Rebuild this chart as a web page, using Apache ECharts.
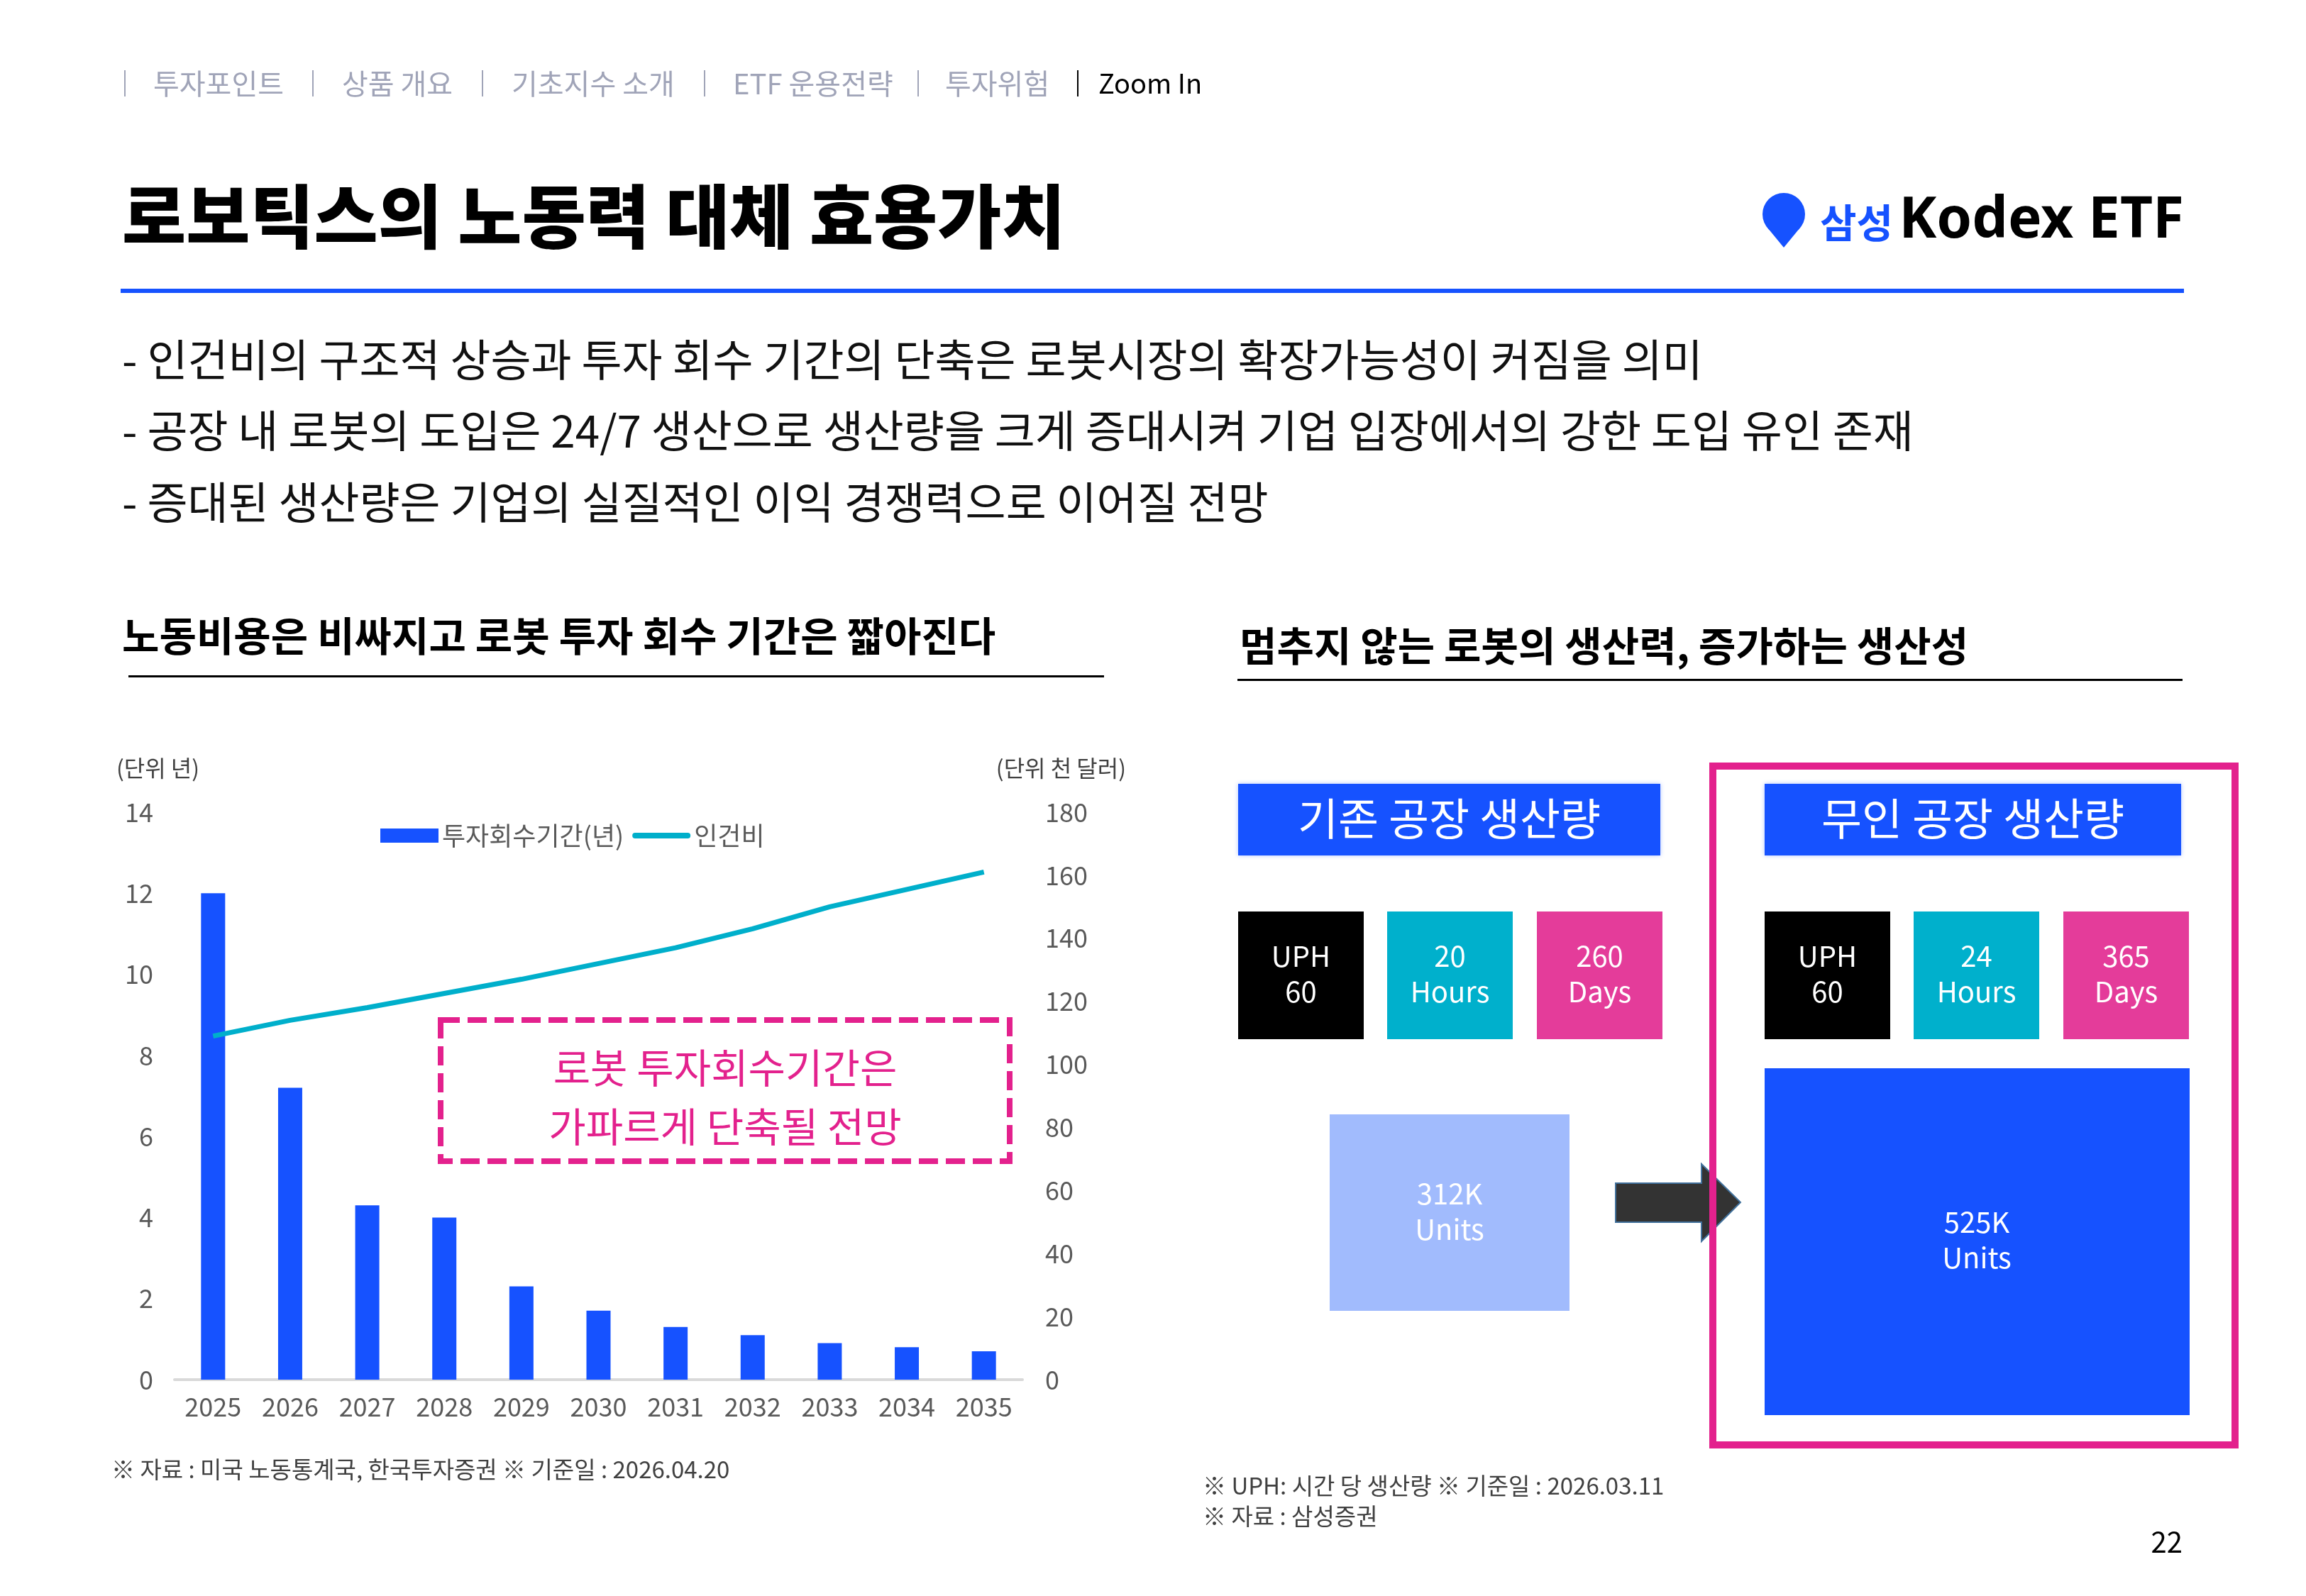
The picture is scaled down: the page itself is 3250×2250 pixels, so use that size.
<!DOCTYPE html>
<html>
<head>
<meta charset="utf-8">
<script src="https://cdn.jsdelivr.net/npm/echarts@6/dist/echarts.min.js"></script>
<style>
    html, body { margin: 0; padding: 0; background: #fff; }
    #main { width: 3250px; height: 2250px; }
</style>
</head>
<body>
<div id="main"></div>
<script>
    // 차트 데이터
    const years = ['2025', '2026', '2027', '2028', '2029', '2030', '2031', '2032', '2033', '2034', '2035'];
    const paybackYears = [12.0, 7.2, 4.3, 4.0, 2.3, 1.7, 1.3, 1.1, 0.9, 0.8, 0.7];
    const laborCost = [109, 114, 118, 122.5, 127, 132, 137, 143, 150, 155.5, 161];
    const seriesNames = ['투자회수기간(년)', '인건비'];

    // 상단 메뉴 / 본문 텍스트
    const navItems = ['투자포인트', '상품 개요', '기초지수 소개', 'ETF 운용전략', '투자위험', 'Zoom In'];
    const bullets = [
        '- 인건비의 구조적 상승과 투자 회수 기간의 단축은 로봇시장의 확장가능성이 커짐을 의미',
        '- 공장 내 로봇의 도입은 24/7 생산으로 생산량을 크게 증대시켜 기업 입장에서의 강한 도입 유인 존재',
        '- 증대된 생산량은 기업의 실질적인 이익 경쟁력으로 이어질 전망'
    ];

    // 오른쪽 생산량 비교
    const panelTitles = ['기존 공장 생산량', '무인 공장 생산량'];
    const uph = [60, 60];
    const hoursPerDay = [20, 24];
    const daysPerYear = [260, 365];
    const outputUnits = ['312K', '525K'];

    const FONT = "'Noto Sans CJK KR', 'Noto Sans', sans-serif";
    const BLUE = '#1652FF';
    const PINK = '#E3218D';

    function txt(x, y, text, size, color, opt) {
        opt = opt || {};
        return {
            type: 'text', x: x, y: y, z: opt.z || 10,
            style: {
                text: text, fill: color,
                fontSize: size, fontFamily: opt.family || FONT,
                fontWeight: opt.weight || 'normal',
                textAlign: opt.align || 'left',
                textVerticalAlign: 'middle',
                lineHeight: opt.lineHeight
            }
        };
    }
    function box(x, y, w, h, fill, opt) {
        opt = opt || {};
        return {
            type: 'rect', z: opt.z || 5,
            shape: {x: x, y: y, width: w, height: h},
            style: Object.assign({fill: fill}, opt.style || {})
        };
    }

    let g = [];

    // 메뉴
    const navX = [216, 482, 721, 1033, 1332, 1548];
    const sepX = [176, 441, 680, 993, 1294, 1519];
    navItems.forEach(function (t, i) {
        let last = i === navItems.length - 1;
        let c = last ? '#000000' : '#A0A4B8';
        g.push({type: 'line', shape: {x1: sepX[i], y1: 99, x2: sepX[i], y2: 136}, style: {stroke: c, lineWidth: 2}});
        g.push(txt(navX[i], 118, t, last ? 38 : 40, c));
    });

    // 제목
    g.push(txt(172, 305, '로보틱스의 노동력 대체 효용가치', 98, '#000', {weight: 900}));
    g.push(box(170, 407, 2908, 6, BLUE));

    // 로고 (원 + 삼각형 핀)
    g.push({type: 'circle', z: 10, shape: {cx: 2514, cy: 302, r: 30}, style: {fill: BLUE}});
    g.push({type: 'polygon', z: 10, shape: {points: [[2491, 321], [2537, 321], [2514, 349]]}, style: {fill: BLUE}});
    g.push(txt(2565, 314, '삼성', 56, BLUE, {weight: 'bold'}));
    g.push(txt(3078, 312, 'Kodex ETF', 80, '#000', {weight: 'bold', align: 'right', family: "'Noto Sans', sans-serif"}));

    // 본문 bullet
    const bulletY = [507, 607, 708];
    bullets.forEach(function (t, i) {
        g.push(txt(172, bulletY[i], t, 62, '#111'));
    });

    // 섹션 제목
    g.push(txt(172, 896, '노동비용은 비싸지고 로봇 투자 회수 기간은 짧아진다', 57, '#000', {weight: 'bold'}));
    g.push(box(181, 952, 1375, 3, '#000'));
    g.push(txt(1747, 910, '멈추지 않는 로봇의 생산력, 증가하는 생산성', 57, '#000', {weight: 'bold'}));
    g.push(box(1744, 957, 1332, 3, '#000'));

    // 차트 단위
    g.push(txt(164, 1083, '(단위 년)', 32, '#404040'));
    g.push(txt(1587, 1083, '(단위 천 달러)', 32, '#404040', {align: 'right'}));

    // 점선 박스 주석
    g.push({
        type: 'rect', z: 8,
        shape: {x: 621, y: 1438, width: 802, height: 199},
        style: {fill: 'none', stroke: PINK, lineWidth: 8, lineDash: [27, 11]}
    });
    g.push(txt(1022, 1505, '로봇 투자회수기간은', 57, PINK, {align: 'center'}));
    g.push(txt(1022, 1588, '가파르게 단축될 전망', 57, PINK, {align: 'center'}));

    g.push(txt(157, 2071, '※ 자료 : 미국 노동통계국, 한국투자증권 ※ 기준일 : 2026.04.20', 33, '#404040'));

    // 오른쪽 비교 패널
    const groupX = [1745, 2487];
    const headerW = [595, 587];
    const cellOffsets = [0, 210, 421];
    const cellColors = ['#000000', '#00B0CC', '#E43C9A'];
    groupX.forEach(function (gx, i) {
        g.push(box(gx, 1105, headerW[i], 101, BLUE, {style: {shadowColor: 'rgba(22,82,255,0.35)', shadowBlur: 6}}));
        g.push(txt(gx + headerW[i] / 2, 1154, panelTitles[i], 62, '#fff', {align: 'center'}));
        let cellText = ['UPH\n' + uph[i], hoursPerDay[i] + '\nHours', daysPerYear[i] + '\nDays'];
        cellOffsets.forEach(function (off, k) {
            g.push(box(gx + off, 1285, 177, 180, cellColors[k]));
            g.push(txt(gx + off + 88.5, 1373, cellText[k], 40, '#fff', {align: 'center', lineHeight: 50}));
        });
    });

    // 생산량 박스
    g.push(box(1874, 1571, 338, 277, '#A1BBFD'));
    g.push(txt(2043, 1708, outputUnits[0] + '\nUnits', 40, '#fff', {align: 'center', lineHeight: 50}));
    g.push(box(2487, 1506, 599, 489, BLUE));
    g.push(txt(2786, 1748, outputUnits[1] + '\nUnits', 40, '#fff', {align: 'center', lineHeight: 50}));

    // 화살표
    g.push({
        type: 'polygon', z: 6,
        shape: {points: [[2277, 1668], [2398, 1668], [2398, 1641], [2453, 1695], [2398, 1750], [2398, 1723], [2277, 1723]]},
        style: {fill: '#333333', stroke: '#41719C', lineWidth: 2}
    });

    // 분홍 테두리
    g.push({
        type: 'rect', z: 9,
        shape: {x: 2414, y: 1080, width: 736, height: 957},
        style: {fill: 'none', stroke: PINK, lineWidth: 10}
    });

    g.push(txt(1695, 2094, '※ UPH: 시간 당 생산량 ※ 기준일 : 2026.03.11', 33, '#404040'));
    g.push(txt(1695, 2137, '※ 자료 : 삼성증권', 33, '#404040'));
    g.push(txt(3076, 2174, '22', 40, '#000', {align: 'right'}));

    let myChart = echarts.init(document.getElementById('main'));

    myChart.setOption({
        animation: false,
        backgroundColor: '#fff',
        textStyle: {fontFamily: FONT},
        grid: {left: 246, right: 1809, top: 1145, bottom: 305},
        legend: {
            left: 536, top: 1160,
            itemWidth: 82, itemHeight: 20, itemGap: 12,
            padding: 0,
            textStyle: {fontSize: 36, color: '#595959', fontFamily: FONT},
            data: [
                {name: seriesNames[0], icon: 'rect'},
                {name: seriesNames[1], icon: 'path://M4,0 H80 A4,4 0 0 1 80,8 H4 A4,4 0 0 1 4,0 Z'}
            ]
        },
        xAxis: {
            type: 'category',
            data: years,
            axisTick: {show: false},
            axisLine: {lineStyle: {color: '#D9D9D9', width: 4}},
            axisLabel: {fontSize: 36, color: '#595959', margin: 20}
        },
        yAxis: [
            {
                type: 'value', min: 0, max: 14, interval: 2,
                splitLine: {show: false},
                axisLine: {show: false}, axisTick: {show: false},
                axisLabel: {fontSize: 36, color: '#595959', margin: 30}
            },
            {
                type: 'value', min: 0, max: 180, interval: 20,
                splitLine: {show: false},
                axisLine: {show: false}, axisTick: {show: false},
                axisLabel: {fontSize: 36, color: '#595959', margin: 32}
            }
        ],
        series: [
            {
                name: seriesNames[0],
                type: 'bar',
                data: paybackYears,
                barWidth: 34,
                itemStyle: {color: BLUE}
            },
            {
                name: seriesNames[1],
                type: 'line',
                yAxisIndex: 1,
                data: laborCost,
                symbol: 'none',
                lineStyle: {color: '#00AFCB', width: 7},
                itemStyle: {color: '#00AFCB'}
            }
        ],
        graphic: {elements: g}
    });
</script>
</body>
</html>
